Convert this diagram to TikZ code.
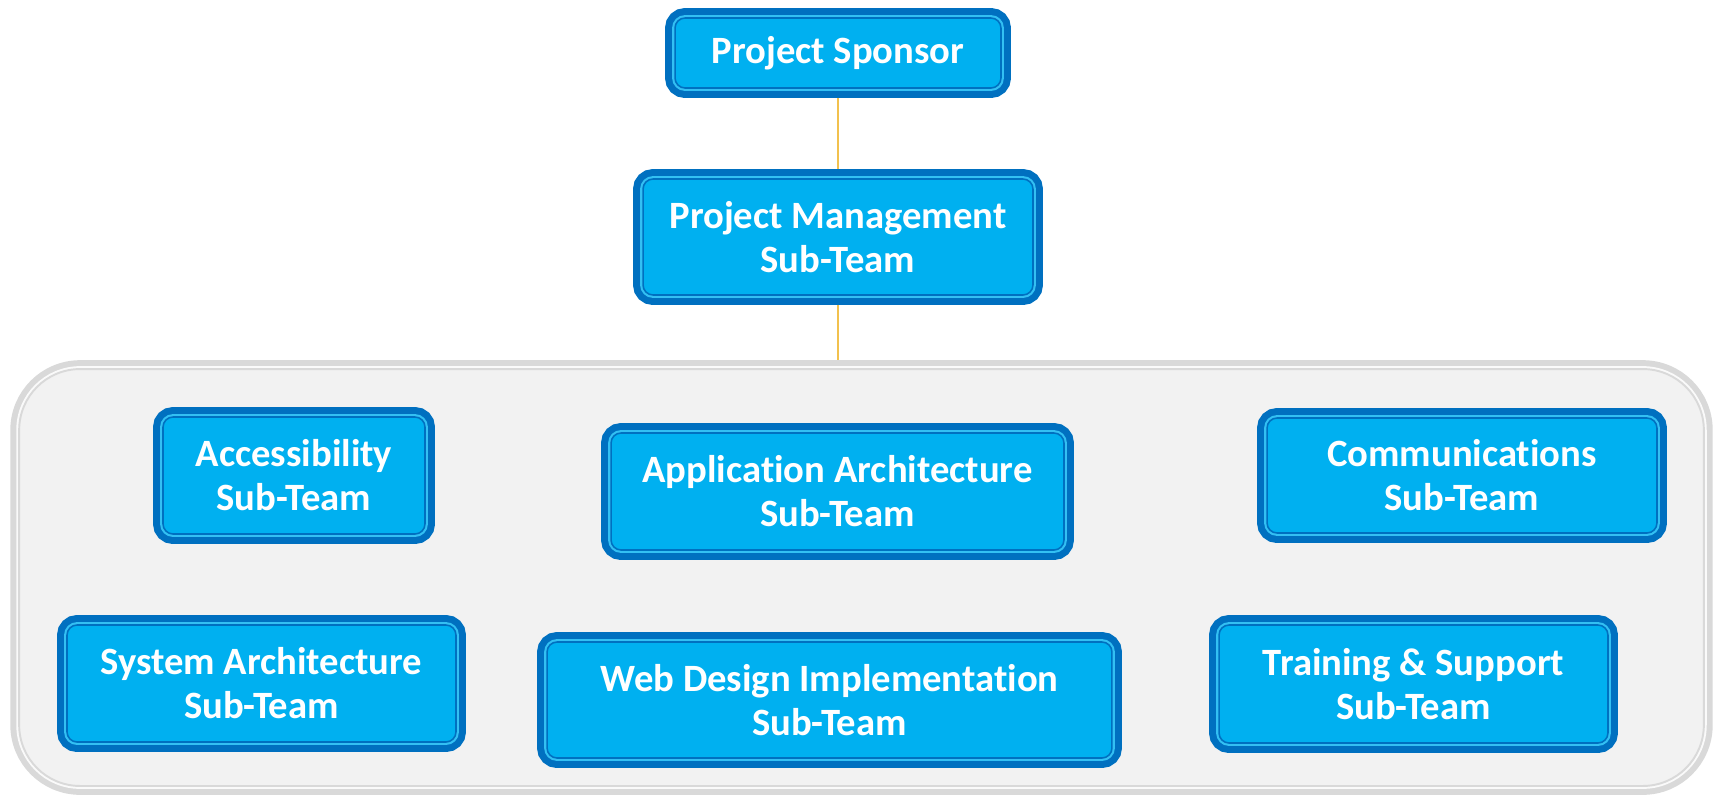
\documentclass[tikz,border=0pt]{standalone}
\usepackage{fontspec}
\setmainfont[Ligatures=NoCommon]{Carlito}
\usepackage{tikz}
\usetikzlibrary{positioning,calc}
\definecolor{teamblue}{HTML}{00B0F0}
\definecolor{teamedge}{HTML}{0070C0}
\definecolor{panelfill}{HTML}{F2F2F2}
\definecolor{paneledge}{HTML}{D9D9D9}
\definecolor{linkgold}{HTML}{F2C14E}

\begin{document}
\begin{tikzpicture}[x=0.02cm,y=-0.02cm,
  team/.style={fill=teamblue,draw=teamedge,line width=0.9pt,rounded corners=0.2cm,
    preaction={draw=teamedge,line width=11.3pt},
    preaction={draw=teamblue!80!white,line width=3.3pt},
    text=white,font=\bfseries\fontsize{22}{25}\selectfont,align=center,
    inner sep=0pt,outer sep=5.65pt},
  panel/.style={fill=panelfill,draw=paneledge,line width=1.1pt,rounded corners=1.22cm,
    preaction={draw=paneledge,line width=10.1pt},
    preaction={draw=white!60!panelfill,line width=3.3pt},
    inner sep=0pt,outer sep=5.05pt},
  link/.style={draw=linkgold,line width=1.1pt}]
  \useasboundingbox (0,0) rectangle (1717,796);
  % Sub-team panel
  \node[panel,minimum width=33.7cm,minimum height=8.34cm] (panel) at (861.5,577.5) {};
  % Top of the chart
  \node[team,minimum width=6.52cm,minimum height=1.40cm] (sponsor) at (838,53) {Project Sponsor};
  \node[team,minimum width=7.8cm,minimum height=2.32cm] (pm) at (838,237) {Project Management\\Sub-Team};
  % Sub-teams, first row
  \node[team,minimum width=5.24cm,minimum height=2.34cm] (access) at (294,475.5) {Accessibility\\Sub-Team};
  \node[team,minimum width=9.06cm,minimum height=2.34cm] (apparch) at (837.5,491.5) {Application Architecture\\Sub-Team};
  \node[team,minimum width=7.8cm,minimum height=2.3cm] (comms) at (1462,475.5) {Communications\\Sub-Team};
  % Sub-teams, second row
  \node[team,minimum width=7.78cm,minimum height=2.34cm] (sysarch) at (261.5,683.5) {System Architecture\\Sub-Team};
  \node[team,minimum width=11.3cm,minimum height=2.32cm] (webdesign) at (829.5,700) {Web Design Implementation\\Sub-Team};
  \node[team,minimum width=7.78cm,minimum height=2.36cm] (training) at (1413.5,684) {Training \& Support\\Sub-Team};
  % Connectors
  \draw[link] (sponsor) -- (pm);
  \draw[link] (pm.south) -- (pm.south |- panel.north);
\end{tikzpicture}
\end{document}
